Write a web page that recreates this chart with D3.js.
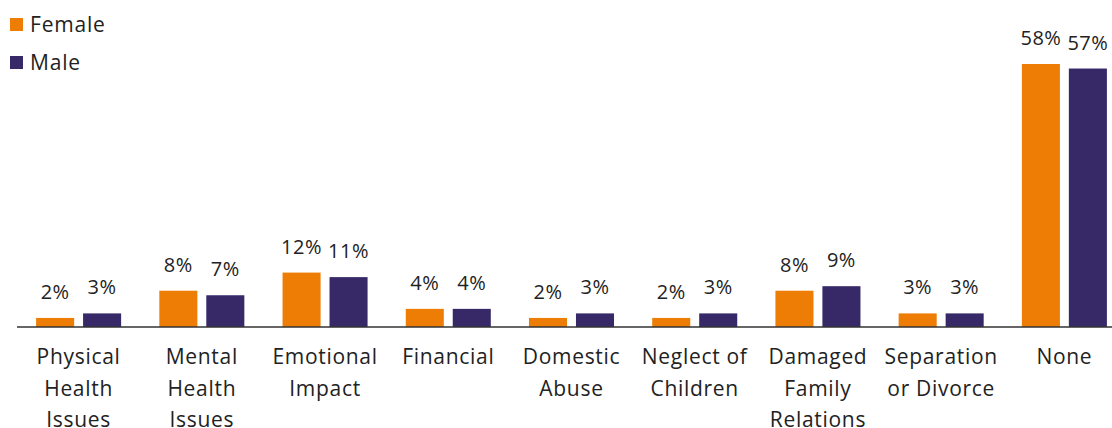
<!DOCTYPE html>
<html>
<head>
<meta charset="utf-8">
<script src="https://cdn.jsdelivr.net/npm/d3@7"></script>
<style>
  html, body { margin: 0; padding: 0; background: #fff; }
  svg { display: block; font-family: "Open Sans", "Noto Sans", sans-serif; }
</style>
</head>
<body>
<svg id="chart" width="1112" height="428"></svg>
<script>
// Impact categories (multi-line labels)
const categories = [
  ["Physical", "Health", "Issues"],
  ["Mental", "Health", "Issues"],
  ["Emotional", "Impact"],
  ["Financial"],
  ["Domestic", "Abuse"],
  ["Neglect of", "Children"],
  ["Damaged", "Family", "Relations"],
  ["Separation", "or Divorce"],
  ["None"]
];
const seriesNames = ["Female", "Male"];
const femaleValues = [2, 8, 12, 4, 2, 2, 8, 3, 58];
const maleValues   = [3, 7, 11, 4, 3, 3, 9, 3, 57];
const colors = { Female: "#EE7D05", Male: "#372868" };

const svg = d3.select("#chart");
const baseline = 327;
const keys = categories.map(c => c.join(" "));

const x0 = d3.scaleBand().domain(keys).range([17, 1126])
  .paddingInner(0.31).paddingOuter(0.155);
const x1 = d3.scaleBand().domain(seriesNames).range([0, x0.bandwidth()])
  .paddingInner(0.19);
const y = d3.scaleLinear().domain([0, 58]).range([baseline, 64]);

const rows = keys.map((k, i) => ({
  key: k, lines: categories[i],
  vals: [
    { s: "Female", v: femaleValues[i] },
    { s: "Male", v: maleValues[i] }
  ]
}));

const groups = svg.append("g").selectAll("g").data(rows).join("g")
  .attr("transform", d => `translate(${x0(d.key)},0)`);

groups.selectAll("rect").data(d => d.vals).join("rect")
  .attr("x", d => x1(d.s))
  .attr("width", x1.bandwidth())
  .attr("y", d => y(d.v))
  .attr("height", d => baseline - y(d.v))
  .attr("fill", d => colors[d.s]);

groups.selectAll("text.val").data(d => d.vals).join("text")
  .attr("class", "val")
  .attr("x", d => x1(d.s) + x1.bandwidth() / 2)
  .attr("y", d => y(d.v) - 19)
  .attr("text-anchor", "middle")
  .attr("font-size", 20)
  .attr("letter-spacing", 0.5)
  .attr("fill", "#222")
  .text(d => d.v + "%");

// baseline axis
const xAxis = d3.axisBottom(x0).tickSize(0).tickFormat("");
const axisG = svg.append("g").attr("transform", `translate(0,${baseline})`).call(xAxis);
axisG.select(".domain").attr("d", "M17,0H1112").attr("stroke", "#333").attr("stroke-width", 1.6);

// category labels
groups.append("text")
  .attr("x", x0.bandwidth() / 2)
  .attr("text-anchor", "middle")
  .attr("font-size", 21)
  .attr("letter-spacing", 0.7)
  .attr("fill", "#222")
  .selectAll("tspan").data(d => d.lines).join("tspan")
  .attr("x", x0.bandwidth() / 2)
  .attr("y", (d, i) => 364 + i * 31.5)
  .text(d => d);

// legend
const legend = svg.append("g").selectAll("g").data(seriesNames).join("g")
  .attr("transform", (d, i) => `translate(10,${18 + i * 38})`);
legend.append("rect").attr("width", 13).attr("height", 13).attr("fill", d => colors[d]);
legend.append("text").attr("x", 20).attr("y", 14).attr("font-size", 21)
  .attr("letter-spacing", 0.8)
  .attr("fill", "#222").text(d => d);
</script>
</body>
</html>
